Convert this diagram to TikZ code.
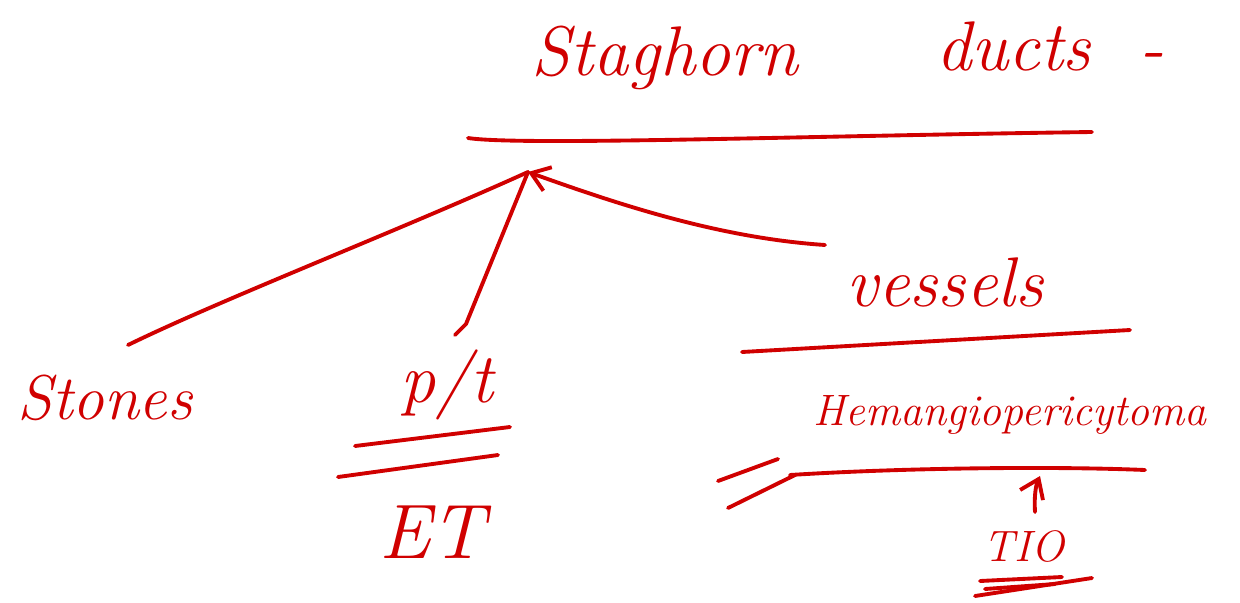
\documentclass[tikz,border=0pt]{standalone}
\usepackage{xcolor}
\usepackage{tikz}
\usetikzlibrary{arrows.meta, positioning, calc}
\definecolor{ink}{HTML}{D00000}

\begin{document}
\begin{tikzpicture}[x=0.02cm, y=-0.02cm, >={Straight Barb[length=3.5mm, width=5mm]}]
    \tikzstyle{word} = [text=ink, inner sep=0pt, font=\itshape]
    \tikzstyle{stroke} = [draw=ink, line width=2.2pt, line cap=round, line join=round]
    \useasboundingbox (0,0) rectangle (1240,602);

    % headings
    \node [word, font=\itshape\fontsize{40}{40}\selectfont] (stag) at (665,58) {Staghorn};
    \node [word, font=\itshape\fontsize{40}{40}\selectfont] (ducts) at (1050,46) {ducts\,\, -};
    \node [word, font=\itshape\fontsize{40}{40}\selectfont] (ves) at (945,282) {vessels};
    \node [word, font=\itshape\fontsize{25}{25}\selectfont] (hpc) at (1010,415) {Hemangiopericytoma};
    \node [word, font=\itshape\fontsize{25}{25}\selectfont] (tio) at (1024,546) {TIO};
    \node [word, font=\itshape\fontsize{36}{36}\selectfont] (stones) at (105,398) {Stones};
    \node [word, font=\itshape\fontsize{40}{40}\selectfont] (pt) at (447,385) {p/t};
    \node [word, font=\itshape\fontsize{44}{44}\selectfont] (et) at (432,532) {ET};

    % free ends
    \coordinate (hub) at (528,172);
    \coordinate (vesTail) at (825,245);
    \coordinate (tioTail) at (1035,512);
    \coordinate (stagL) at (468,138);
    \coordinate (stagR) at (1092,132);
    \coordinate (vesL) at (742,352);
    \coordinate (vesR) at (1130,330);
    \coordinate (hpcL) at (790,475);
    \coordinate (hpcR) at (1145,470);
    \coordinate (hpcM) at (1040,476);

    % underlines
    \path [stroke] (stagL) .. controls (520,146) and (800,136) .. (stagR);
    \path [stroke] (vesL) -- (vesR);
    \path [stroke] (hpcL) .. controls (900,468) and (1050,466) .. (hpcR);
    \path [stroke] (718,481) -- (778,459);
    \path [stroke] (728,508) -- (795,475);
    \path [stroke] (355,446) -- (510,427);
    \path [stroke] (338,477) -- (498,455);
    \path [stroke] (980,581) -- (1062,577);
    \path [stroke] (985,589) -- (1055,584);
    \path [stroke] (975,596) -- (1092,578);

    % connectors
    \path [stroke] (hub) .. controls (400,230) and (220,300) .. (128,345);
    \path [stroke] (hub) -- (466,324) -- (455,335);
    \path [stroke, ->] (vesTail) .. controls (720,238) and (620,205) .. (hub);
    \path [stroke, ->] (tioTail) .. controls (1034,495) and (1036,485) .. (hpcM);
\end{tikzpicture}
\end{document}
